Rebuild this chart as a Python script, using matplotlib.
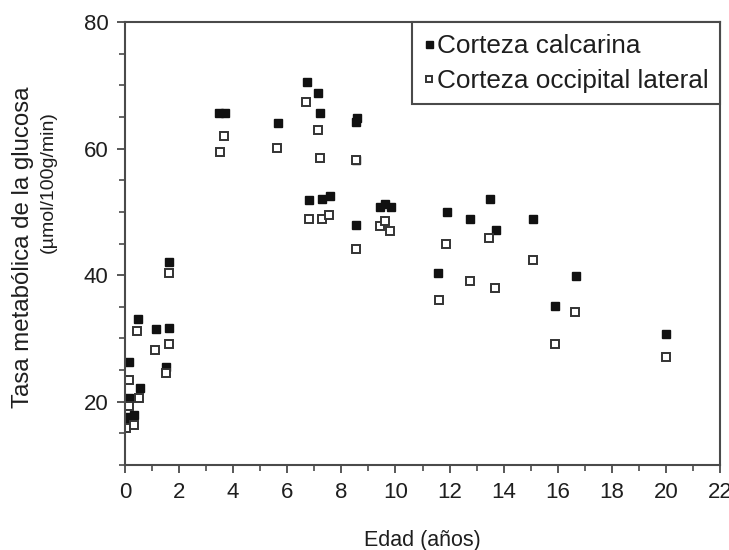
import matplotlib
matplotlib.use("Agg")
import matplotlib.pyplot as plt
from matplotlib.ticker import MultipleLocator

plt.rcParams['font.family'] = ['Liberation Sans', 'DejaVu Sans']

# Glucose metabolic rate by age (years)
calc_age = [0.03, 0.03, 0.13, 0.15, 0.34, 0.48, 0.54, 1.15, 1.52, 1.62, 1.64,
            3.49, 3.71, 5.66, 6.73, 6.79, 7.12, 7.20, 7.29, 7.57,
            8.54, 8.58, 8.54, 8.54, 9.42, 9.63, 9.84,
            11.56, 11.91, 12.77, 13.48, 13.73, 15.07, 15.89, 16.67, 20.0]
calc_rate = [17.6, 16.6, 20.6, 26.2, 17.9, 33.0, 22.1, 31.5, 25.5, 31.6, 42.0,
             65.6, 65.6, 64.0, 70.5, 51.9, 68.8, 65.6, 52.0, 52.5,
             64.2, 64.8, 58.2, 47.9, 50.8, 51.2, 50.8,
             40.4, 49.9, 48.8, 52.0, 47.1, 48.8, 35.1, 39.9, 30.7]

occ_age = [0.03, 0.34, 0.13, 0.15, 0.45, 0.52, 1.10, 1.52, 1.62, 1.64,
           3.53, 3.65, 5.62, 6.71, 6.79, 7.12, 7.22, 7.29, 7.54,
           8.54, 8.54, 9.42, 9.60, 9.81,
           11.62, 11.87, 12.77, 13.45, 13.69, 15.09, 15.89, 16.65, 20.0]
occ_rate = [15.9, 16.3, 19.3, 23.4, 31.2, 20.6, 28.2, 24.5, 29.1, 40.3,
            59.4, 62.0, 60.1, 67.4, 48.9, 63.0, 58.5, 48.9, 49.5,
            58.2, 44.1, 47.8, 48.6, 47.0,
            36.0, 44.9, 39.1, 45.8, 37.9, 42.4, 29.1, 34.1, 27.0]

x_ticks = [0, 2, 4, 6, 8, 10, 12, 14, 16, 18, 20, 22]
y_ticks = [20, 40, 60, 80]

fig = plt.figure(figsize=(7.29, 5.5), dpi=100)
ax = fig.add_axes([125 / 729, 1 - 465 / 550, (720 - 125) / 729, (465 - 22) / 550])

ax.plot(calc_age, calc_rate, linestyle='none', marker='s', markersize=6.3,
        color='#111111', markeredgecolor='#111111', label='Corteza calcarina')
ax.plot(occ_age, occ_rate, linestyle='none', marker='s', markersize=5.7,
        markerfacecolor='white', markeredgecolor='#333333', markeredgewidth=1.4,
        label='Corteza occipital lateral')

ax.set_xlim(0, 22)
ax.set_ylim(10, 80)
ax.set_xticks(x_ticks)
ax.set_xticklabels([str(t) for t in x_ticks])
ax.set_yticks(y_ticks)
ax.xaxis.set_minor_locator(MultipleLocator(1))
ax.yaxis.set_minor_locator(MultipleLocator(5))

spine_col = '#4a4a4a'
text_col = '#1e1e1e'
for s in ax.spines.values():
    s.set_color(spine_col)
    s.set_linewidth(1.5)
ax.tick_params(which='major', direction='out', length=6, width=1.3,
               color=spine_col, labelsize=16, labelcolor=text_col, pad=6)
ax.tick_params(which='minor', direction='out', length=4, width=1.2, color=spine_col)

ax.set_xlabel('Edad (años)', fontsize=15.5, color=text_col, labelpad=20)

fig.text(23 / 729, 1 - 247 / 550, 'Tasa metabólica de la glucosa', rotation=90,
         ha='center', va='center', fontsize=17.3, color=text_col)
fig.text(48 / 729, 1 - 182 / 550, '(µmol/100g/min)', rotation=90,
         ha='center', va='center', fontsize=14, color=text_col)

leg = ax.legend(loc='upper right', borderaxespad=0, fancybox=False,
                frameon=True, fontsize=18.8, handlelength=0.4, handletextpad=0.1,
                borderpad=0.45, labelspacing=0.42, markerscale=0.8,
                edgecolor=spine_col, framealpha=1)
leg.get_frame().set_linewidth(1.5)
for t in leg.get_texts():
    t.set_color(text_col)

fig.savefig('out.png', dpi=100)
